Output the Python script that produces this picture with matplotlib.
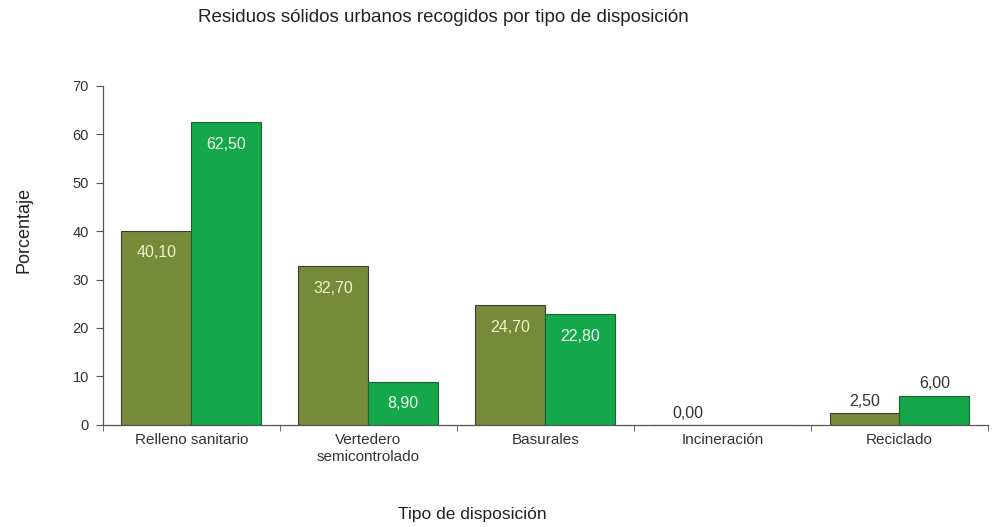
import matplotlib
matplotlib.use("Agg")
import matplotlib.pyplot as plt
import numpy as np

categories = ["Relleno sanitario", "Vertedero\nsemicontrolado", "Basurales", "Incineración", "Reciclado"]
serie_a = [40.10, 32.70, 24.70, 0.00, 2.50]
serie_b = [62.50, 8.90, 22.80, None, 6.00]
yticks = [0, 10, 20, 30, 40, 50, 60, 70]

plt.rcParams['font.family'] = ['Liberation Sans', 'DejaVu Sans']

fig = plt.figure(figsize=(9.97, 5.27), dpi=100)
ax = fig.add_axes([0.103, 0.194, 0.888, 0.643])

x = np.arange(len(categories))
w = 0.395
col_a = '#778a3a'
col_b = '#14a84b'
va = np.array(serie_a, dtype=float)
vb = np.array([v if v is not None else 0 for v in serie_b], dtype=float)
ax.bar(x - w/2, va, w, color=col_a, edgecolor='#3a3a3a', linewidth=0.8)
ax.bar(x + w/2, vb, w, color=col_b, edgecolor='#1f5f30', linewidth=0.8)

def fmt(v):
    return f"{v:.2f}".replace('.', ',')

lab_fs = 11.5
for i, v in enumerate(serie_a):
    if v >= 10:
        ax.annotate(fmt(v), (x[i] - w/2, v), xytext=(0, -16), textcoords='offset points',
                    ha='center', va='center', fontsize=lab_fs, color='#eef3c8')
    else:
        ax.annotate(fmt(v), (x[i] - w/2, v), xytext=(0, 8), textcoords='offset points',
                    ha='center', va='center', fontsize=lab_fs, color='#333333')
for i, v in enumerate(serie_b):
    if v is None:
        continue
    if v >= 8:
        ax.annotate(fmt(v), (x[i] + w/2, v), xytext=(0, -16), textcoords='offset points',
                    ha='center', va='center', fontsize=lab_fs, color='#f2fff2')
    else:
        ax.annotate(fmt(v), (x[i] + w/2, v), xytext=(0, 9), textcoords='offset points',
                    ha='center', va='center', fontsize=lab_fs, color='#333333')

ax.set_xlim(-0.5, len(categories) - 0.5)
ax.set_ylim(0, 70)
ax.set_yticks(yticks)
ax.set_yticklabels([str(t) for t in yticks], fontsize=10.5, color='#333333')
ax.set_xticks(x)
ax.set_xticklabels(categories, fontsize=11, color='#333333', linespacing=1.3)
ax.tick_params(axis='x', length=0, pad=6)
ax.set_xticks(np.arange(-0.5, len(categories)), minor=True)
ax.tick_params(axis='x', which='minor', length=4, color='#555555')
ax.tick_params(axis='y', length=5, color='#555555', pad=5)
for s in ['top', 'right']:
    ax.spines[s].set_visible(False)
for s in ['left', 'bottom']:
    ax.spines[s].set_color('#555555')
    ax.spines[s].set_linewidth(0.9)

fig.text(24/997, 1 - 230/527, "Porcentaje", rotation=90, ha='center', va='center', fontsize=13, color='#222222')
fig.text(472/997, 1 - 514/527, "Tipo de disposición", ha='center', va='center', fontsize=12.5, color='#222222')
fig.text(443/997, 1 - 18/527, "Residuos sólidos urbanos recogidos por tipo de disposición", ha='center', va='center', fontsize=13.5, color='#222222')

fig.savefig("out.png", dpi=100, facecolor='white')
